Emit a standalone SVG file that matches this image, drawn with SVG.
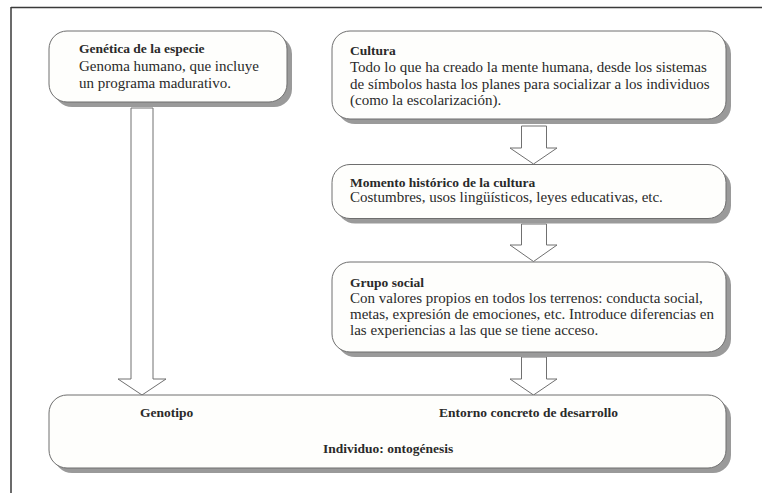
<svg xmlns="http://www.w3.org/2000/svg" width="762" height="493" viewBox="0 0 762 493">
<style>
.shadow{fill:#9a9a9a;stroke:none}
.box{fill:#fefefc;stroke:#6e6e6e;stroke-width:1}
.arrow{fill:#ffffff;stroke:#707070;stroke-width:1}
.t{font-family:"Liberation Serif","Times New Roman",serif;fill:#2a2a2a}
.b{font-size:13.5px;font-weight:bold}
.r{font-size:15px}
</style>
<rect x="0" y="0" width="762" height="493" fill="#ffffff"/>
<g id="frame" fill="none" stroke="#3a3a3a" stroke-width="1.5">
<line x1="11" y1="7.5" x2="762" y2="7.5"/>
<line x1="11" y1="7" x2="11" y2="493"/>
</g>
<g id="connectors">
<polygon class="arrow" points="131,108 153,108 153,379 166,379 142,395 118,379 131,379"/>
<polygon class="arrow" points="521.5,126 546.5,126 546.5,148 557,148 533.5,164 510,148 521.5,148"/>
<polygon class="arrow" points="521.5,224 546.5,224 546.5,245 557,245 533.5,261.5 510,245 521.5,245"/>
<polygon class="arrow" points="521.5,357 546.5,357 546.5,379 557,379 533.5,395 510,379 521.5,379"/>
</g>
<g id="genetica">
<rect class="shadow" x="54" y="36" width="238" height="71" rx="18"/>
<rect class="box" x="49" y="31" width="238" height="71" rx="18"/>
<text class="t b" x="79" y="53">Genética de la especie</text>
<text class="t r" x="79" y="71">Genoma humano, que incluye</text>
<text class="t r" x="79" y="88">un programa madurativo.</text>
</g>
<g id="cultura">
<rect class="shadow" x="337" y="36" width="394" height="88" rx="18"/>
<rect class="box" x="332" y="31" width="394" height="88" rx="18"/>
<text class="t b" x="350" y="55">Cultura</text>
<text class="t r" x="350" y="72">Todo lo que ha creado la mente humana, desde los sistemas</text>
<text class="t r" x="350" y="88.5">de símbolos hasta los planes para socializar a los individuos</text>
<text class="t r" x="350" y="105">(como la escolarización).</text>
</g>
<g id="momento">
<rect class="shadow" x="337" y="169.5" width="394" height="54" rx="18"/>
<rect class="box" x="332" y="164.5" width="394" height="54" rx="18"/>
<text class="t b" x="350" y="186.5">Momento histórico de la cultura</text>
<text class="t r" x="350" y="202">Costumbres, usos lingüísticos, leyes educativas, etc.</text>
</g>
<g id="grupo">
<rect class="shadow" x="337" y="267" width="394" height="90" rx="18"/>
<rect class="box" x="332" y="262" width="394" height="90" rx="18"/>
<text class="t b" x="350" y="287">Grupo social</text>
<text class="t r" x="350" y="303">Con valores propios en todos los terrenos: conducta social,</text>
<text class="t r" x="350" y="319">metas, expresión de emociones, etc. Introduce diferencias en</text>
<text class="t r" x="350" y="335">las experiencias a las que se tiene acceso.</text>
</g>
<g id="individuo">
<rect class="shadow" x="54" y="400" width="677" height="73" rx="18"/>
<rect class="box" x="49" y="395" width="677" height="73" rx="18"/>
<text class="t b" x="140" y="417">Genotipo</text>
<text class="t b" x="439" y="417">Entorno concreto de desarrollo</text>
<text class="t b" x="323" y="453">Individuo: ontogénesis</text>
</g>
</svg>
